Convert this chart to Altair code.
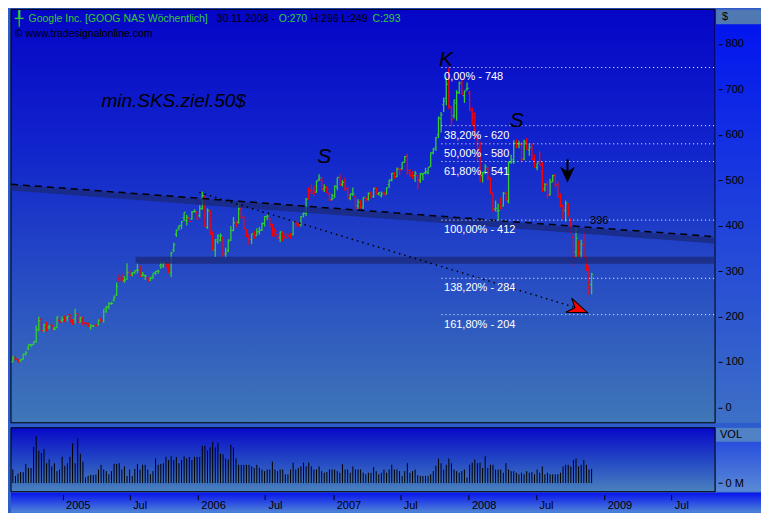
import altair as alt
import pandas as pd

FONT = "Liberation Sans, DejaVu Sans"
GREEN = "#33cc33"
RED = "#ff0000"
W, H1, H2, AX = 705, 414, 64, 46

# ---------------- weekly bars, weeks ending Friday, first week 20.08.2004 ----------------
opens = [
    # 2004
    100, 108, 105, 102, 106, 117, 129, 138, 138, 145, 170, 193, 170, 177, 175, 181, 172, 176, 192, 191,
    # 2005
    197, 196, 204, 193, 194, 206, 187, 198, 186, 184, 177, 179, 181, 181, 193, 190, 210, 222, 228, 236,
    248, 283, 285, 279, 282, 297, 293, 296, 302, 302, 290, 290, 285, 280, 287, 296, 300, 312, 311, 316,
    314, 296, 346, 381, 395, 400, 417, 411, 417, 415, 431, 430,
    # 2006
    422, 437, 460, 396, 431, 386, 346, 365, 368, 373, 338, 345, 368, 389, 406, 407, 437, 418, 390, 375,
    370, 382, 378, 387, 390, 405, 420, 416, 402, 390, 380, 374, 386, 376, 380, 379, 380, 409, 404, 402,
    425, 427, 477, 478, 477, 474, 501, 500, 480, 483, 470, 457,
    # 2007
    466, 485, 505, 491, 498, 482, 460, 469, 464, 444, 451, 441, 460, 458, 471, 464, 484, 470, 466, 472,
    469, 490, 500, 515, 508, 525, 525, 539, 553, 516, 510, 510, 510, 500, 512, 516, 516, 530, 560, 571,
    600, 635, 666, 680, 715, 660, 642, 670, 692, 712, 686, 700,
    # 2008
    692, 653, 646, 590, 571, 510, 519, 525, 505, 471, 437, 432, 452, 443, 471, 454, 540, 540, 581, 580,
    578, 546, 584, 567, 568, 546, 528, 540, 520, 481, 490, 467, 496, 510, 490, 468, 443, 433, 440, 415,
    374, 342, 355, 340, 357, 328, 304, 270,
]
highs = [
    113, 113, 106, 106, 118, 124, 138, 140, 145, 180, 200, 198, 183, 188, 182, 182, 177, 200, 192, 200,
    202, 201, 205, 194, 217, 207, 199, 198, 187, 186, 183, 181, 183, 193, 198, 216, 223, 232, 232, 246,
    275, 293, 294, 289, 317, 303, 298, 302, 320, 312, 298, 292, 287, 287, 295, 300, 303, 321, 320, 320,
    319, 342, 362, 391, 401, 410, 429, 424, 418, 432, 436, 431,
    445, 475, 466, 438, 435, 387, 370, 381, 383, 373, 351, 370, 399, 419, 411, 450, 448, 420, 392, 382,
    382, 388, 394, 397, 407, 421, 425, 417, 404, 395, 384, 387, 386, 381, 380, 384, 410, 411, 405, 421,
    430, 461, 484, 490, 488, 499, 513, 507, 491, 487, 474, 470,
    488, 506, 513, 500, 506, 485, 470, 484, 464, 458, 456, 462, 465, 473, 475, 483, 484, 474, 475, 475,
    484, 501, 516, 518, 528, 528, 539, 553, 558, 524, 519, 520, 512, 516, 516, 527, 528, 561, 571, 595,
    640, 650, 682, 726, 748, 663, 677, 698, 717, 725, 697, 715,
    697, 660, 649, 600, 585, 518, 535, 530, 506, 472, 455, 448, 462, 474, 475, 541, 556, 588, 590, 587,
    585, 589, 593, 580, 581, 557, 538, 563, 540, 493, 497, 503, 512, 514, 497, 471, 447, 455, 450, 416,
    381, 394, 367, 369, 389, 332, 312, 296,
]
lows = [
    100, 103, 99, 100, 105, 114, 126, 133, 137, 142, 168, 168, 165, 167, 172, 170, 170, 174, 185, 187,
    187, 189, 188, 181, 185, 185, 187, 180, 180, 177, 171, 177, 178, 181, 186, 186, 209, 216, 226, 233,
    245, 276, 276, 274, 281, 288, 288, 294, 295, 287, 288, 280, 275, 278, 282, 291, 294, 305, 307, 306,
    296, 287, 342, 375, 390, 392, 410, 400, 408, 413, 429, 414,
    418, 435, 397, 393, 380, 345, 331, 360, 365, 331, 330, 342, 366, 388, 395, 404, 415, 392, 375, 358,
    359, 371, 378, 380, 388, 398, 412, 395, 376, 376, 368, 364, 366, 371, 376, 371, 379, 397, 397, 398,
    418, 421, 457, 469, 466, 472, 498, 478, 474, 471, 455, 456,
    461, 478, 489, 486, 476, 461, 456, 465, 438, 437, 437, 436, 452, 455, 459, 461, 468, 466, 462, 466,
    469, 483, 497, 503, 507, 511, 523, 539, 512, 507, 503, 496, 480, 494, 500, 513, 513, 529, 557, 564,
    593, 605, 650, 665, 656, 618, 636, 631, 690, 689, 670, 697,
    652, 620, 595, 542, 495, 495, 513, 500, 470, 431, 431, 412, 436, 443, 455, 449, 536, 536, 570, 570,
    540, 544, 567, 554, 544, 528, 522, 530, 474, 475, 460, 467, 496, 484, 463, 440, 414, 409, 420, 383,
    310, 330, 331, 328, 326, 300, 247, 249,
]
closes = [
    108, 106, 100, 105, 117, 120, 138, 138, 144, 172, 191, 169, 182, 169, 179, 180, 172, 199, 188, 193,
    194, 200, 188, 190, 204, 187, 198, 185, 185, 178, 180, 179, 180, 192, 191, 216, 220, 228, 229, 242,
    266, 280, 283, 280, 297, 291, 296, 301, 302, 288, 292, 290, 280, 284, 295, 299, 300, 315, 316, 313,
    296, 340, 358, 390, 400, 409, 429, 418, 409, 430, 431, 415,
    438, 466, 399, 433, 382, 363, 369, 377, 378, 338, 340, 366, 390, 406, 402, 437, 418, 394, 375, 370,
    382, 380, 386, 390, 404, 420, 421, 403, 390, 388, 373, 386, 383, 373, 378, 378, 409, 404, 401, 420,
    427, 459, 475, 471, 473, 498, 505, 480, 484, 480, 456, 460,
    487, 506, 489, 495, 481, 461, 470, 470, 438, 452, 440, 462, 458, 471, 467, 482, 479, 472, 470, 470,
    483, 500, 515, 506, 524, 523, 539, 552, 521, 511, 504, 515, 500, 515, 515, 519, 528, 560, 568, 594,
    637, 644, 674, 711, 663, 633, 676, 693, 714, 689, 696, 702,
    657, 638, 600, 566, 516, 516, 529, 507, 472, 433, 438, 433, 438, 471, 457, 539, 545, 581, 574, 580,
    545, 585, 568, 572, 546, 528, 538, 534, 481, 491, 467, 496, 510, 490, 463, 444, 437, 449, 431, 386,
    332, 372, 339, 359, 331, 311, 263, 293,
]
volumes = [  # million shares per week
    43, 23, 30, 35, 35, 61, 48, 48, 115, 148, 103, 95, 108, 63, 75, 53, 63, 38, 43, 83,
    55, 63, 83, 126, 63, 141, 93, 68, 18, 23, 26, 26, 27, 43, 58, 43, 38, 28, 38, 61,
    61, 63, 43, 53, 23, 43, 23, 45, 61, 43, 58, 58, 43, 28, 38, 78, 58, 61, 63, 83,
    73, 85, 73, 83, 63, 73, 85, 78, 83, 73, 83, 83,
    83, 118, 118, 103, 113, 131, 113, 128, 93, 91, 78, 75, 121, 113, 78, 58, 58, 58, 58, 58,
    53, 48, 58, 48, 43, 38, 43, 43, 68, 43, 38, 43, 43, 28, 28, 43, 65, 43, 48, 53,
    65, 53, 65, 53, 43, 43, 53, 38, 33, 35, 43, 43,
    43, 38, 33, 60, 43, 43, 33, 53, 43, 43, 43, 33, 28, 33, 33, 51, 38, 28, 33, 43,
    33, 43, 58, 43, 43, 38, 23, 38, 63, 33, 38, 43, 25, 23, 23, 23, 23, 28, 38, 55,
    78, 63, 43, 58, 78, 63, 43, 38, 33, 38, 43, 18,
    58, 65, 75, 63, 65, 48, 85, 48, 58, 58, 43, 43, 43, 33, 63, 43, 38, 38, 33, 28,
    33, 28, 38, 33, 35, 28, 43, 33, 53, 28, 33, 28, 28, 28, 28, 33, 53, 58, 58, 53,
    73, 78, 53, 58, 73, 58, 43, 45,
]

fib_labels = ["0,00%", "38,20%", "50,00%", "61,80%", "100,00%", "138,20%", "161,80%"]
fib_values = [748, 620, 580, 541, 412, 284, 204]
y_ticks = [0, 100, 200, 300, 400, 500, 600, 700, 800]
tick_years = [2005, 2006, 2007, 2008, 2009]
tick_months = [1, 7]

support_level = 323.5
trend_prices = [484, 367]      # thick trend line, left edge -> right edge
dashed_prices = [491, 375.6]   # dashed line
dotted_prices = [473, 221]     # dotted projection
marked_level = 396

# ---------------- frames ----------------
n = len(closes)
dates = pd.date_range("2004-08-20", periods=n, freq="7D")
df = pd.DataFrame({"date": dates, "open": opens, "high": highs, "low": lows,
                   "close": closes, "vol": volumes})
df["dir"] = ["up" if c >= o else "down" for o, c in zip(opens, closes)]

LEFT = pd.Timestamp("2004-08-15")
RIGHT = pd.Timestamp("2009-10-27")

xscale = alt.Scale(domain=[alt.DateTime(year=2004, month=8, date=15),
                           alt.DateTime(year=2009, month=10, date=27)], nice=False)
yscale = alt.Scale(domain=[-34, 876], nice=False, zero=False)
vscale = alt.Scale(domain=[-27, 175], nice=False, zero=False)

yaxis = alt.Axis(orient="right", values=y_ticks, title=None, domain=False, grid=False,
                 tickSize=4, tickColor="black", tickWidth=1, labelColor="black",
                 labelFont=FONT, labelFontSize=11, labelPadding=3, offset=3, zindex=1,
                 minExtent=38, maxExtent=38)
vaxis = alt.Axis(orient="right", values=[0], labelExpr="datum.value + ' M'", title=None,
                 domain=False, grid=False, tickSize=4, tickColor="black", labelColor="black",
                 labelFont=FONT, labelFontSize=11, labelPadding=3, offset=3, zindex=1,
                 minExtent=38, maxExtent=38)
xaxis = alt.Axis(orient="bottom",
                 values=[alt.DateTime(year=y, month=m, date=1) for y in tick_years for m in tick_months],
                 labelExpr="month(datum.value) == 0 ? timeFormat(datum.value, '%Y') : timeFormat(datum.value, '%b')",
                 title=None, domain=False, grid=False, tickSize=5, tickColor="black",
                 labelColor="black", labelFont=FONT, labelFontSize=11, labelAlign="left",
                 labelBaseline="top", labelPadding=0, labelOffset=3, offset=3,
                 labelFlush=False, labelOverlap=False, zindex=1)


def X(f):
    return alt.X(f"{f}:T", scale=xscale, axis=None)


def Y(f):
    return alt.Y(f"{f}:Q", scale=yscale, axis=yaxis)


def vgrad(stops):
    return alt.LinearGradient(gradient="linear",
                              stops=[alt.GradientStop(offset=o, color=c) for o, c in stops],
                              x1=0, x2=0, y1=0, y2=1)


one = pd.DataFrame({"k": [0]})


def box(x0, x1, y0, y1, fill, stroke=False):
    kw = {"fill": fill}
    if stroke:
        kw.update(stroke="black", strokeWidth=1)
    return alt.Chart(one).mark_rect(**kw).encode(
        x=alt.value(x0), x2=alt.value(x1), y=alt.value(y0), y2=alt.value(y1))


def ptext(txt, x, y, color="black", size=11, **kw):
    return alt.Chart(one).mark_text(text=txt, color=color, font=FONT, fontSize=size,
                                    align="left", baseline="middle", **kw).encode(
        x=alt.value(x), y=alt.value(y))


color = alt.Color("dir:N", scale=alt.Scale(domain=["up", "down"], range=[GREEN, RED]), legend=None)

# ---------------- main panel ----------------
bg_main = box(0, W, 0, H1, vgrad([(0, "#0505c6"), (0.35, "#1226cc"), (0.7, "#2a52c2"), (1, "#3f77b7")]), stroke=True)
col_main = box(W + 1, W + AX, 0, H1, vgrad([(0, "#0012f0"), (1, "#3d70c6")]))
hdr_main = box(W + 1, W + AX, 0, 15, "#5079b4")
dollar = ptext("$", W + 7, 8)

base = alt.Chart(df)
hl = base.mark_rule(strokeWidth=1.3).encode(x=X("date"), y=Y("low"), y2="high:Q", color=color)
op = base.mark_rule(strokeWidth=1.2, xOffset=-1.5, x2Offset=0).encode(
    x=X("date"), x2="date:T", y=Y("open"), color=color)
cl = base.mark_rule(strokeWidth=1.2, xOffset=0, x2Offset=1.5).encode(
    x=X("date"), x2="date:T", y=Y("close"), color=color)

seg = pd.DataFrame({
    "d1": [LEFT, LEFT, pd.Timestamp("2006-01-05"), pd.Timestamp("2005-07-17")],
    "d2": [RIGHT, RIGHT, pd.Timestamp("2008-10-10"), RIGHT],
    "p1": [trend_prices[0], dashed_prices[0], dotted_prices[0], support_level],
    "p2": [trend_prices[1], dashed_prices[1], dotted_prices[1], support_level],
    "kind": ["trend", "dashed", "dotted", "support"],
})


def seg_layer(kind, **mk):
    return alt.Chart(seg[seg.kind == kind]).mark_rule(**mk).encode(
        x=X("d1"), x2="d2:T", y=Y("p1"), y2="p2:Q")


trend = seg_layer("trend", color="#1a2878", strokeWidth=6, opacity=0.75)
support = seg_layer("support", color="#1a2878", strokeWidth=7, opacity=0.75)
dashed = seg_layer("dashed", color="black", strokeWidth=1.5, strokeDash=[7, 5])
dotted = seg_layer("dotted", color="black", strokeWidth=1.5, strokeDash=[1.5, 4])

fib = pd.DataFrame({"d1": pd.Timestamp("2007-10-20"), "d2": RIGHT,
                    "lx": pd.Timestamp("2007-10-27"), "p": fib_values,
                    "label": [f"{a} - {b}" for a, b in zip(fib_labels, fib_values)]})
fib_lines = alt.Chart(fib).mark_rule(color="white", strokeWidth=1, strokeDash=[1, 3]).encode(
    x=X("d1"), x2="d2:T", y=Y("p"))
fib_text = alt.Chart(fib).mark_text(color="white", font=FONT, fontSize=11, align="left",
                                    baseline="middle", dy=10).encode(
    x=X("lx"), y=Y("p"), text="label:N")

ann = pd.DataFrame({
    "d": pd.to_datetime(["2006-12-08", "2007-11-01", "2008-05-10"]),
    "p": [552, 764, 630],
    "t": ["S", "K", "S"],
})
letters = alt.Chart(ann).mark_text(color="black", font=FONT, fontSize=21, fontStyle="italic",
                                   align="center", baseline="middle").encode(
    x=X("d"), y=Y("p"), text="t:N")

lvl = pd.DataFrame({"d": [pd.Timestamp("2008-11-24")], "p": [409.6], "t": [str(marked_level)]})
lvl_text = alt.Chart(lvl).mark_text(color="black", font=FONT, fontSize=11, align="left",
                                    baseline="middle").encode(x=X("d"), y=Y("p"), text="t:N")

goal = pd.DataFrame({"d": [pd.Timestamp("2005-04-16")], "p": [674], "t": ["min.SKS.ziel.50$"]})
goal_text = alt.Chart(goal).mark_text(color="black", font=FONT, fontSize=19, fontStyle="italic",
                                      align="left", baseline="middle").encode(
    x=X("d"), y=Y("p"), text="t:N")

arr = pd.DataFrame({"d": [pd.Timestamp("2008-09-24")], "p1": [546], "p2": [514]})
arr_shaft = alt.Chart(arr).mark_rule(color="black", strokeWidth=2).encode(
    x=X("d"), y=Y("p1"), y2="p2:Q")
arr_head = alt.Chart(arr).mark_point(shape="M0,1L-0.8,-0.7L0,-0.2L0.8,-0.7Z", size=160,
                                     filled=True, fill="black", stroke="black", opacity=1).encode(
    x=X("d"), y=Y("p2"))

red = pd.DataFrame({"d": [pd.Timestamp("2008-10-23")], "p": [216.5]})
red_arrow = alt.Chart(red).mark_point(shape="M1,0L-1,-0.75L-0.35,0L-1,0.75Z", size=420, angle=22,
                                      filled=True, fill=RED, stroke="black", strokeWidth=1,
                                      opacity=1).encode(x=X("d"), y=Y("p"))

title_parts = [
    ("\u2540", GREEN, 4, 14),
    ("Google Inc. [GOOG NAS  W\u00f6chentlich]", GREEN, 17.6, 10.5),
    ("30.11.2008 -", "black", 206, 10.5),
    (f"O:{opens[-1]}", GREEN, 268, 10.5),
    (f"H:{highs[-1]} L:{lows[-1]}", "black", 300, 10.5),
    (f"C:{closes[-1]}", GREEN, 362, 10.5),
]
title_layers = [ptext(t, x, 9.7, color=c, size=s) for t, c, x, s in title_parts]
copy_layer = ptext("\u00a9 www.tradesignalonline.com", 4, 25, size=10.5)

main = alt.layer(
    bg_main, col_main, hdr_main, dollar,
    hl, op, cl,
    support, trend, dashed, dotted, fib_lines,
    fib_text, lvl_text, letters, goal_text, arr_shaft, arr_head, red_arrow,
    *title_layers, copy_layer,
).properties(width=W, height=H1)

# ---------------- volume panel ----------------
bg_vol = box(0, W, 0, H2, vgrad([(0, "#0808c8"), (0.5, "#2246c4"), (1, "#4a82be")]), stroke=True)
col_vol = box(W + 1, W + AX, 0, H2, vgrad([(0, "#1a3ee0"), (1, "#5a8ad4")]))
hdr_vol = box(W + 1, W + AX, 0, 14, "#5282c6")
vol_lbl = ptext("VOL", W + 5, 7)
strip = box(0, W + AX, H2 + 1, H2 + 21, vgrad([(0, "#0814ee"), (1, "#4f86d6")]))

vol_rules = alt.Chart(df).mark_rule(color="black", strokeWidth=1).encode(
    x=alt.X("date:T", scale=xscale, axis=xaxis),
    y=alt.Y("vol:Q", scale=vscale, axis=vaxis),
    y2=alt.datum(0),
)

vol = alt.layer(bg_vol, col_vol, hdr_vol, vol_lbl, strip, vol_rules).properties(width=W, height=H2)

chart = alt.vconcat(main, vol, spacing=3).properties(
    background="#2d5ccc", padding=0
).configure_view(strokeWidth=0)

chart.save("out.html", embed_options={"renderer": "svg", "actions": False})
